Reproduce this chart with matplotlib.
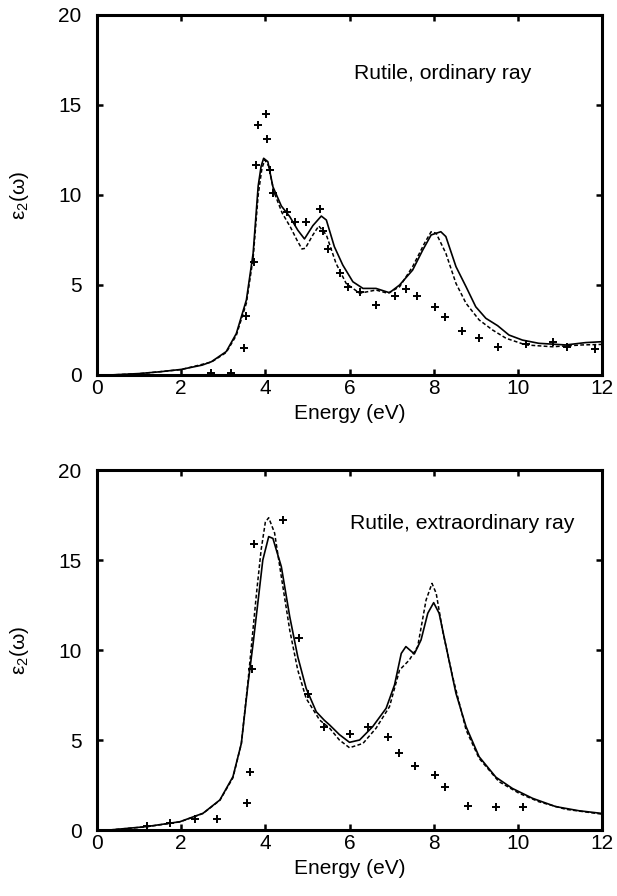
import matplotlib
matplotlib.use("Agg")
import matplotlib.pyplot as plt
import numpy as np

plt.rcParams['font.family'] = ['Liberation Sans', 'DejaVu Sans']
plt.rcParams['mathtext.fontset'] = 'custom'
plt.rcParams['mathtext.rm'] = 'Liberation Sans'

# ---------------- Top panel: ordinary ray ----------------
ord_solid_E = [0.3, 1.0, 1.5, 2.0, 2.5, 2.72, 3.07, 3.31, 3.55, 3.71, 3.83, 3.90, 3.96, 4.06,
               4.18, 4.38, 4.58, 4.77, 4.93, 5.13, 5.33, 5.45, 5.64, 5.84, 6.08, 6.32, 6.63,
               6.95, 7.19, 7.50, 7.74, 7.94, 8.17, 8.29, 8.53, 8.77, 9.0, 9.24, 9.52, 9.79,
               10.11, 10.50, 11.14, 11.61, 12.0]
ord_solid_v = [0.0, 0.08, 0.18, 0.31, 0.55, 0.74, 1.3, 2.3, 4.17, 6.76, 10.5, 11.6, 12.04, 11.85,
               10.46, 9.39, 8.8, 8.05, 7.56, 8.3, 8.83, 8.61, 7.13, 6.11, 5.18, 4.81, 4.81,
               4.57, 5.0, 5.83, 6.94, 7.78, 7.96, 7.69, 6.02, 4.9, 3.79, 3.15, 2.74, 2.22,
               1.94, 1.76, 1.67, 1.80, 1.85]

ord_dash_E = [0.3, 1.0, 2.0, 2.72, 3.07, 3.31, 3.55, 3.71, 3.83, 3.92, 3.99, 4.08, 4.2, 4.4,
              4.6, 4.75, 4.87, 4.95, 5.13, 5.27, 5.45, 5.68, 5.92, 6.24, 6.63, 6.91, 7.19,
              7.50, 7.78, 7.94, 8.06, 8.29, 8.53, 8.77, 9.08, 9.40, 9.72, 10.19, 10.82,
              11.53, 12.0]
ord_dash_v = [0.0, 0.07, 0.3, 0.72, 1.25, 2.2, 4.0, 6.5, 10.0, 11.5, 11.95, 11.6, 10.2, 9.0,
              8.2, 7.5, 7.0, 7.04, 7.78, 8.28, 7.78, 6.2, 5.09, 4.54, 4.72, 4.54, 4.9,
              6.02, 7.31, 7.96, 7.87, 6.76, 5.09, 3.98, 3.06, 2.5, 2.04, 1.67, 1.57,
              1.67, 1.70]

ord_exp_E = [2.72, 3.18, 3.49, 3.53, 3.72, 3.77, 3.83, 4.02, 4.03, 4.11, 4.19, 4.51, 4.70,
             4.96, 5.29, 5.37, 5.50, 5.77, 5.97, 6.24, 6.63, 7.09, 7.34, 7.60, 8.02, 8.28,
             8.67, 9.07, 9.53, 10.19, 10.84, 11.18, 11.83]
ord_exp_v = [0.1, 0.1, 1.48, 3.28, 6.3, 11.65, 13.9, 14.5, 13.1, 11.4, 10.1, 9.07, 8.5,
             8.5, 9.2, 8.0, 6.98, 5.68, 4.9, 4.63, 3.87, 4.39, 4.8, 4.41, 3.76, 3.24,
             2.44, 2.06, 1.54, 1.72, 1.85, 1.54, 1.44]

# ---------------- Bottom panel: extraordinary ray ----------------
ext_solid_E = [0.3, 1.18, 1.97, 2.52, 2.92, 3.23, 3.43, 3.59, 3.71, 3.83, 3.94, 4.08, 4.18,
               4.38, 4.58, 4.77, 4.97, 5.21, 5.40, 5.53, 5.76, 6.0, 6.24, 6.55, 6.87, 7.07,
               7.23, 7.34, 7.54, 7.70, 7.86, 8.0, 8.13, 8.33, 8.53, 8.77, 9.08, 9.48, 9.87,
               10.35, 10.90, 11.45, 12.0]
ext_solid_v = [0.0, 0.19, 0.46, 0.93, 1.67, 2.96, 4.81, 8.15, 10.37, 12.78, 15.0, 16.3, 16.2,
               14.63, 11.85, 9.63, 7.87, 6.57, 6.1, 5.83, 5.3, 4.87, 5.0, 5.74, 6.76, 8.06,
               9.81, 10.19, 9.78, 10.56, 12.04, 12.63, 12.04, 9.81, 7.59, 5.74, 4.07, 2.93, 2.31,
               1.76, 1.30, 1.07, 0.92]

ext_dash_E = [0.3, 1.18, 1.97, 2.52, 2.92, 3.23, 3.43, 3.59, 3.79, 3.90, 4.00, 4.08, 4.22,
              4.38, 4.58, 4.77, 4.97, 5.29, 5.53, 5.76, 6.0, 6.32, 6.63, 6.95, 7.19, 7.42,
              7.62, 7.82, 7.96, 8.06, 8.21, 8.45, 8.77, 9.08, 9.55, 10.03, 10.50, 11.14, 12.0]
ext_dash_v = [0.0, 0.18, 0.45, 0.92, 1.65, 2.9, 4.8, 8.3, 13.15, 15.56, 17.1, 17.35, 16.5,
              14.07, 11.1, 8.89, 7.31, 6.11, 5.65, 5.0, 4.57, 4.81, 5.65, 6.85, 8.89, 9.44,
              10.19, 12.78, 13.7, 13.15, 11.1, 8.52, 5.56, 3.98, 2.69, 2.04, 1.57, 1.15, 0.88]

ext_exp_E = [1.19, 1.73, 2.32, 2.84, 3.56, 3.63, 3.69, 3.73, 4.41, 4.81, 5.01, 5.40, 6.0,
             6.45, 6.91, 7.17, 7.56, 8.02, 8.28, 8.81, 9.48, 10.13]
ext_exp_v = [0.24, 0.37, 0.59, 0.59, 1.52, 3.2, 8.94, 15.87, 17.2, 10.65, 7.55, 5.7, 5.31,
             5.7, 5.19, 4.26, 3.57, 3.06, 2.41, 1.35, 1.26, 1.26]

titles = ["Rutile, ordinary ray", "Rutile, extraordinary ray"]
xticks = [0, 2, 4, 6, 8, 10, 12]
yticks = [0, 5, 10, 15, 20]

W, H = 617, 896
fig = plt.figure(figsize=(W / 100, H / 100), dpi=100)

def frac(px_left, px_top, px_right, px_bottom):
    return [px_left / W, 1 - px_bottom / H, (px_right - px_left) / W, (px_bottom - px_top) / H]

ax1 = fig.add_axes(frac(97, 15, 602, 375))
ax2 = fig.add_axes(frac(97, 470, 602, 830))

panels = [
    (ax1, ord_solid_E, ord_solid_v, ord_dash_E, ord_dash_v, ord_exp_E, ord_exp_v, titles[0], (6.1, 16.75)),
    (ax2, ext_solid_E, ext_solid_v, ext_dash_E, ext_dash_v, ext_exp_E, ext_exp_v, titles[1], (6.0, 17.05)),
]

for ax, sE, sv, dE, dv, eE, ev, title, tpos in panels:
    ax.plot(sE, sv, color='black', lw=1.2, solid_joinstyle='round')
    ax.plot(dE, dv, color='black', lw=1.1, linestyle=(0, (2.5, 1.5)))
    ax.plot(eE, ev, linestyle='none', marker='+', color='black', ms=5.5, mew=1.4)
    ax.set_xlim(0, 12)
    ax.set_ylim(0, 20)
    ax.set_xticks(xticks)
    ax.set_yticks(yticks)
    ax.tick_params(direction='in', length=4, width=1.8, top=True, right=True,
                   labelsize=15, colors='black')
    ax.tick_params(axis='x', pad=3)
    ax.tick_params(axis='y', pad=11)
    for sp in ax.spines.values():
        sp.set_linewidth(2.2)
    ax.set_xlabel("Energy (eV)", fontsize=15, labelpad=4)
    ax.set_ylabel(r"ε$_2$(ω)", fontsize=15, labelpad=20)
    ax.text(tpos[0], tpos[1], title, fontsize=15.2, ha='left', va='center')

fig.savefig("out.png", dpi=100)
